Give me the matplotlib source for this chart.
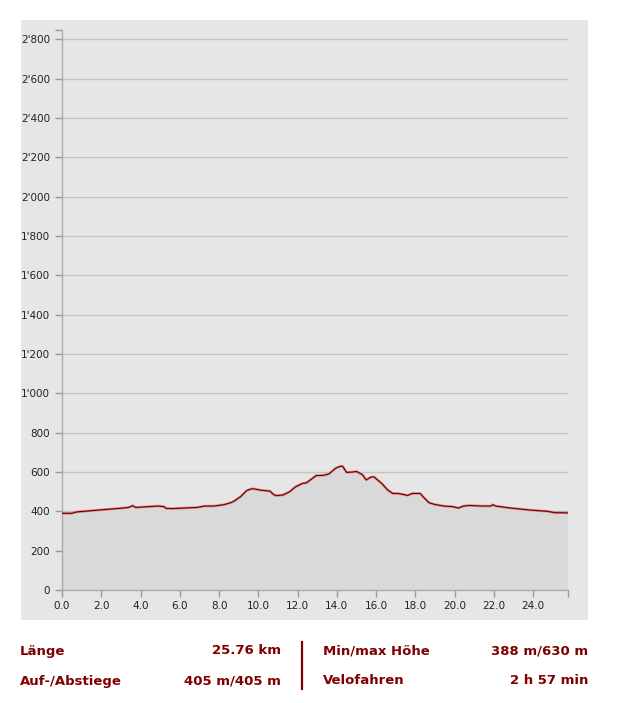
import numpy as np
import matplotlib.pyplot as plt
import matplotlib.patches as mpatches

km = [0.0, 0.5, 0.75, 1.9, 2.9, 3.4, 3.6, 3.75, 4.4, 4.9, 5.2, 5.3, 5.6, 6.9, 7.25,
      7.75, 8.25, 8.6, 8.75, 9.1, 9.4, 9.6, 9.75, 10.1, 10.4, 10.6, 10.75, 10.9,
      11.25, 11.6, 11.9, 12.25, 12.45, 12.95, 13.3, 13.6, 13.95, 14.2, 14.3, 14.5,
      14.8, 15.0, 15.3, 15.5, 15.75, 15.9, 16.3, 16.6, 16.85, 17.1, 17.35, 17.6,
      17.85, 18.25, 18.4, 18.7, 19.0, 19.45, 19.9, 20.2, 20.45, 20.75, 21.4, 21.85,
      21.95, 22.1, 22.75, 23.8, 24.75, 25.1, 25.5, 25.76]
hoehe = [390, 390, 397, 407, 415, 420, 429, 420, 424, 427, 424, 415, 414, 420, 427,
         427, 434, 444, 451, 475, 505, 513, 515, 508, 505, 503, 488, 480,
         483, 500, 525, 542, 545, 582, 583, 590, 620, 630, 629, 598,
         600, 603, 587, 560, 575, 575, 541, 508, 491, 491, 487, 481,
         491, 491, 474, 444, 435, 427, 424, 417, 427, 430, 427, 427,
         434, 427, 418, 407, 400, 393, 393, 392]

x_ticks = [0, 2, 4, 6, 8, 10, 12, 14, 16, 18, 20, 22, 24]
y_ticks = list(range(0, 2801, 200))

stats_links = [("Länge", "25.76 km"), ("Auf-/Abstiege", "405 m/405 m")]
stats_rechts = [("Min/max Höhe", "388 m/630 m"), ("Velofahren", "2 h 57 min")]

rot = "#800000"
x_max = 25.78
y_max = 2848

fig = plt.figure(figsize=(6.18, 7.03), dpi=100)
fig.patch.set_facecolor("white")

# grauer Hintergrund
bg = mpatches.Rectangle((21 / 618, 83 / 703), 567 / 618, 600 / 703,
                        transform=fig.transFigure, facecolor="#e6e6e6",
                        edgecolor="none")
bg.set_zorder(-5)
fig.add_artist(bg)

ax = fig.add_axes([62 / 618, 113 / 703, 506 / 618, 560 / 703])
ax.set_zorder(1)
ax.set_facecolor("#e6e6e6")
ax.set_xlim(0, x_max)
ax.set_ylim(0, y_max)

for y in y_ticks[1:]:
    ax.axhline(y, color="#c4c4c4", linewidth=1.0, zorder=1)

ax.fill_between(km, hoehe, 0, color="#d9d9d9", linewidth=0, zorder=2)
ax.plot(km, hoehe, color="#e03c3c", linewidth=1.8, alpha=0.55, zorder=3)
ax.plot(km, hoehe, color="#6a0000", linewidth=0.8, zorder=4)

# Endticks oben / rechts ohne Beschriftung
ax.set_xticks(x_ticks + [x_max])
ax.set_xticklabels([f"{v:.1f}" for v in x_ticks] + [""])
ax.set_yticks(y_ticks + [y_max])
ax.set_yticklabels([f"{v:,}".replace(",", "'") for v in y_ticks] + [""])
ax.tick_params(axis="both", colors="#999999", labelcolor="#222222", labelsize=7.5,
               length=5, width=1)
ax.tick_params(axis="x", pad=3)

for s in ["top", "right"]:
    ax.spines[s].set_visible(False)
for s in ["left", "bottom"]:
    ax.spines[s].set_color("#aaaaaa")
    ax.spines[s].set_linewidth(1.0)

# Kennzahlen unten
zeilen_y = [651, 681]
for (lab, val), yy in zip(stats_links, zeilen_y):
    fig.text(20 / 618, 1 - yy / 703, lab, color=rot, fontsize=9.5, fontweight="bold",
             va="center", ha="left")
    fig.text(281 / 618, 1 - yy / 703, val, color=rot, fontsize=9.5, fontweight="bold",
             va="center", ha="right")
for (lab, val), yy in zip(stats_rechts, zeilen_y):
    fig.text(323 / 618, 1 - yy / 703, lab, color=rot, fontsize=9.5, fontweight="bold",
             va="center", ha="left")
    fig.text(588 / 618, 1 - yy / 703, val, color=rot, fontsize=9.5, fontweight="bold",
             va="center", ha="right")

fig.add_artist(plt.Line2D([302 / 618, 302 / 618], [1 - 642 / 703, 1 - 689 / 703],
                          color=rot, linewidth=1.6, transform=fig.transFigure))

fig.savefig("out.png", dpi=100)
